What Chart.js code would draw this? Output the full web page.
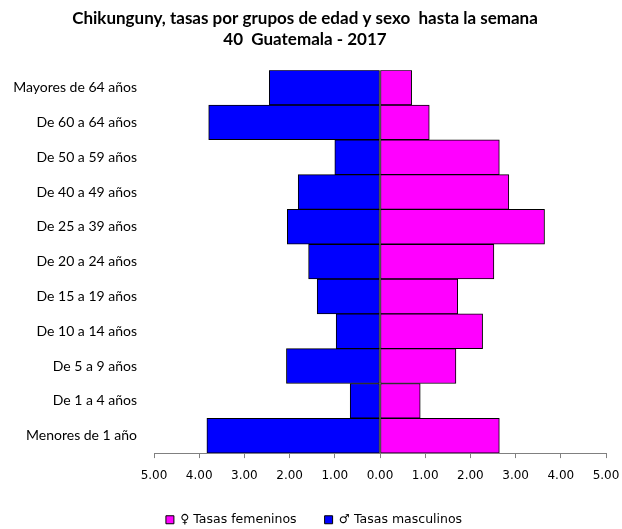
<!DOCTYPE html>
<html>
<head>
<meta charset="utf-8">
<script src="https://cdn.jsdelivr.net/npm/chart.js@4"></script>
<style>
  body { margin: 0; background: #fff; }
  #wrap { width: 622px; height: 529px; }
</style>
</head>
<body>
<div id="wrap"><canvas id="piramide" width="622" height="529"></canvas></div>
<script>
// grupos de edad, de arriba hacia abajo
const grupos = ["Mayores de 64 años", "De 60 a 64 años", "De 50 a 59 años", "De 40 a 49 años",
  "De 25 a 39 años", "De 20 a 24 años", "De 15 a 19 años", "De 10 a 14 años",
  "De 5 a 9 años", "De 1 a 4 años", "Menores de 1 año"];
const tasasFem = [0.70, 1.09, 2.64, 2.85, 3.64, 2.52, 1.72, 2.27, 1.68, 0.89, 2.64];
const tasasMasc = [2.45, 3.79, 1.00, 1.81, 2.05, 1.58, 1.39, 0.97, 2.07, 0.66, 3.83];
const ticksX = [-5, -4, -3, -2, -1, 0, 1, 2, 3, 4, 5];

// corre la leyenda un poco a la derecha, como en el original
const moverLeyenda = {
  id: 'moverLeyenda',
  afterLayout(chart) {
    chart.legend.left += 9;
    chart.legend.right += 9;
  }
};

new Chart(document.getElementById('piramide'), {
  type: 'bar',
  data: {
    labels: grupos,
    datasets: [{
      label: '♀ Tasas femeninos',
      data: tasasFem,
      backgroundColor: '#ff00ff',
      borderColor: '#000',
      borderWidth: 1,
      borderSkipped: false
    }, {
      label: '♂ Tasas masculinos',
      data: tasasMasc.map(v => -v),
      backgroundColor: '#0000ff',
      borderColor: '#000',
      borderWidth: 1,
      borderSkipped: false
    }]
  },
  options: {
    indexAxis: 'y',
    responsive: false,
    animation: false,
    layout: { padding: { left: 4, right: 16, top: 2, bottom: -7 } },
    datasets: { bar: { categoryPercentage: 1, barPercentage: 1 } },
    scales: {
      x: {
        stacked: true,
        min: -5, max: 5,
        afterBuildTicks: axis => { axis.ticks = ticksX.map(v => ({ value: v })); },
        afterFit: scale => { scale.height -= 9; scale.paddingRight = 0; },
        ticks: {
          callback: v => Math.abs(v).toFixed(2),
          color: '#000',
          font: { family: 'DejaVu Sans', size: 12 },
          maxRotation: 0,
          padding: 11
        },
        grid: { display: true, drawOnChartArea: false, drawTicks: true, tickLength: 5, color: '#808080' },
        border: { display: true, color: '#808080' }
      },
      y: {
        stacked: true,
        afterFit: scale => { scale.width = 150; },
        ticks: {
          color: '#000',
          font: { family: 'Lato', size: 14 },
          padding: 17
        },
        grid: { display: false, drawTicks: false },
        border: { display: false }
      }
    },
    plugins: {
      title: {
        display: true,
        text: ['Chikunguny, tasas por grupos de edad y sexo  hasta la semana', '40  Guatemala - 2017'],
        color: '#000',
        font: { family: 'Lato', size: 17, weight: 'bold', lineHeight: 1.24 },
        padding: { top: 6, bottom: 20 }
      },
      legend: {
        position: 'bottom',
        labels: {
          color: '#000',
          font: { family: 'DejaVu Sans', size: 12.5 },
          boxWidth: 8,
          boxHeight: 8,
          padding: 28
        }
      },
      tooltip: { enabled: false }
    }
  },
  plugins: [moverLeyenda]
});
</script>
</body>
</html>
